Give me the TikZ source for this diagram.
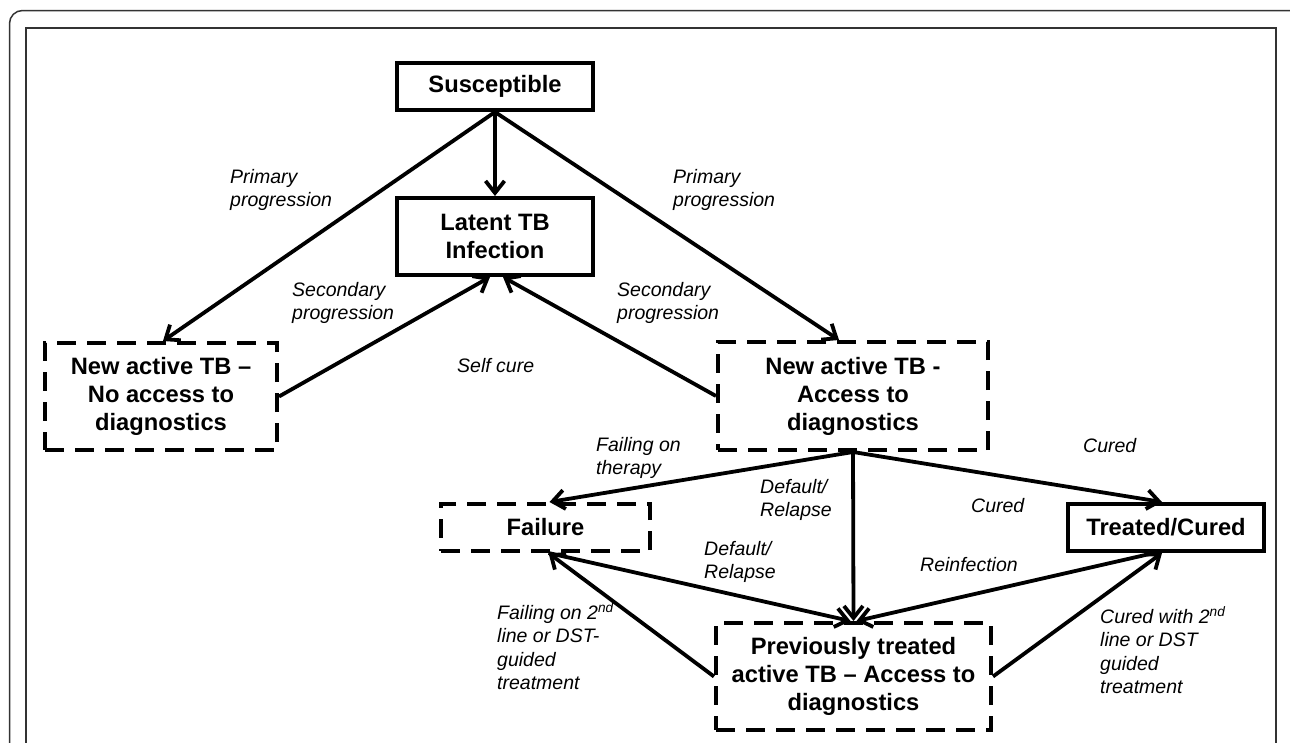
\documentclass[tikz,border=0pt]{standalone}
\usepackage{fontspec}
\setmainfont{Liberation Sans}
\usetikzlibrary{arrows.meta}
\begin{document}
\begin{tikzpicture}[x=1pt,y=-1pt,
  box/.style={draw=black, line width=4pt, inner sep=0pt, align=center, font=\fontsize{23.7}{28}\selectfont\bfseries},
  dbox/.style={box, dash pattern=on 19pt off 11pt},
  lbl/.style={anchor=north west, align=left, inner sep=0pt, font=\fontsize{19.5}{23.3}\selectfont\itshape},
  arr/.style={line width=3.8pt, -{Straight Barb[length=12pt,width=19pt,line width=3.8pt]}},
  ]
\useasboundingbox (0,0) rectangle (1290,742);
\fill[white] (0,0) rectangle (1290,742);
\draw[line width=1.5pt, draw=black!80, rounded corners=13pt] (9.5,10.5) rectangle (1302,800);
\draw[line width=2pt, draw=black!80] (26,27.5) rectangle (1276,800);

\node[box, minimum width=196pt, minimum height=47pt] (sus) at (495,86.5) {Susceptible};
\node[box, minimum width=196pt, minimum height=77pt] (lat) at (495,236.5) {Latent TB\\Infection};
\node[dbox, minimum width=232pt, minimum height=107pt] (noacc) at (161,396.5) {New active TB –\\No access to\\diagnostics};
\node[dbox, minimum width=270pt, minimum height=108pt] (acc) at (853,396) {New active TB -\\Access to\\diagnostics};
\node[dbox, minimum width=209pt, minimum height=47pt] (fail) at (545.5,527.5) {Failure};
\node[box, minimum width=196pt, minimum height=47pt] (treat) at (1166,527.5) {Treated/Cured};
\node[dbox, minimum width=275pt, minimum height=107pt] (prev) at (853.5,676.5) {Previously treated\\active TB – Access to\\diagnostics};

\draw[arr] (sus.south) -- (lat.north);
\draw[arr] (sus.south) -- ([xshift=2pt]noacc.north);
\draw[arr] (sus.south) -- ([xshift=-14pt]acc.north);
\draw[arr] (noacc.east) -- ([xshift=-5pt]lat.south);
\draw[arr] (acc.west) -- ([xshift=8pt]lat.south);
\draw[arr] (acc.south) -- ([xshift=4pt]fail.north);
\draw[arr] (acc.south) -- (prev.north);
\draw[arr] (acc.south) -- ([xshift=-4pt]treat.north);
\draw[arr] ([xshift=3pt]fail.south) -- ([xshift=-3pt]prev.north);
\draw[arr] ([xshift=-12pt]treat.south) -- ([xshift=3pt]prev.north);
\draw[arr] (prev.west) -- ([xshift=3pt]fail.south);
\draw[arr] (prev.east) -- ([xshift=-4pt]treat.south);

\node[lbl] (l1) at (230,169) {Primary\\progression};
\node[lbl] (l2) at (673,169) {Primary\\progression};
\node[lbl] (l3) at (292,282) {Secondary\\progression};
\node[lbl] (l4) at (617,282) {Secondary\\progression};
\node[lbl] (l5) at (457,358) {Self cure};
\node[lbl] (l6) at (596,437) {Failing on\\therapy};
\node[lbl] (l7) at (760,479) {Default/\\Relapse};
\node[lbl] (l8) at (704,541) {Default/\\Relapse};
\node[lbl] (l9) at (497,602) {Failing on 2\textsuperscript{nd}\\line or DST-\\guided\\treatment};
\node[lbl] (l10) at (1083,438) {Cured};
\node[lbl] (l11) at (971,498) {Cured};
\node[lbl] (l12) at (920,557) {Reinfection};
\node[lbl] (l13) at (1100,606) {Cured with 2\textsuperscript{nd}\\line or DST\\guided\\treatment};
\end{tikzpicture}
\end{document}
